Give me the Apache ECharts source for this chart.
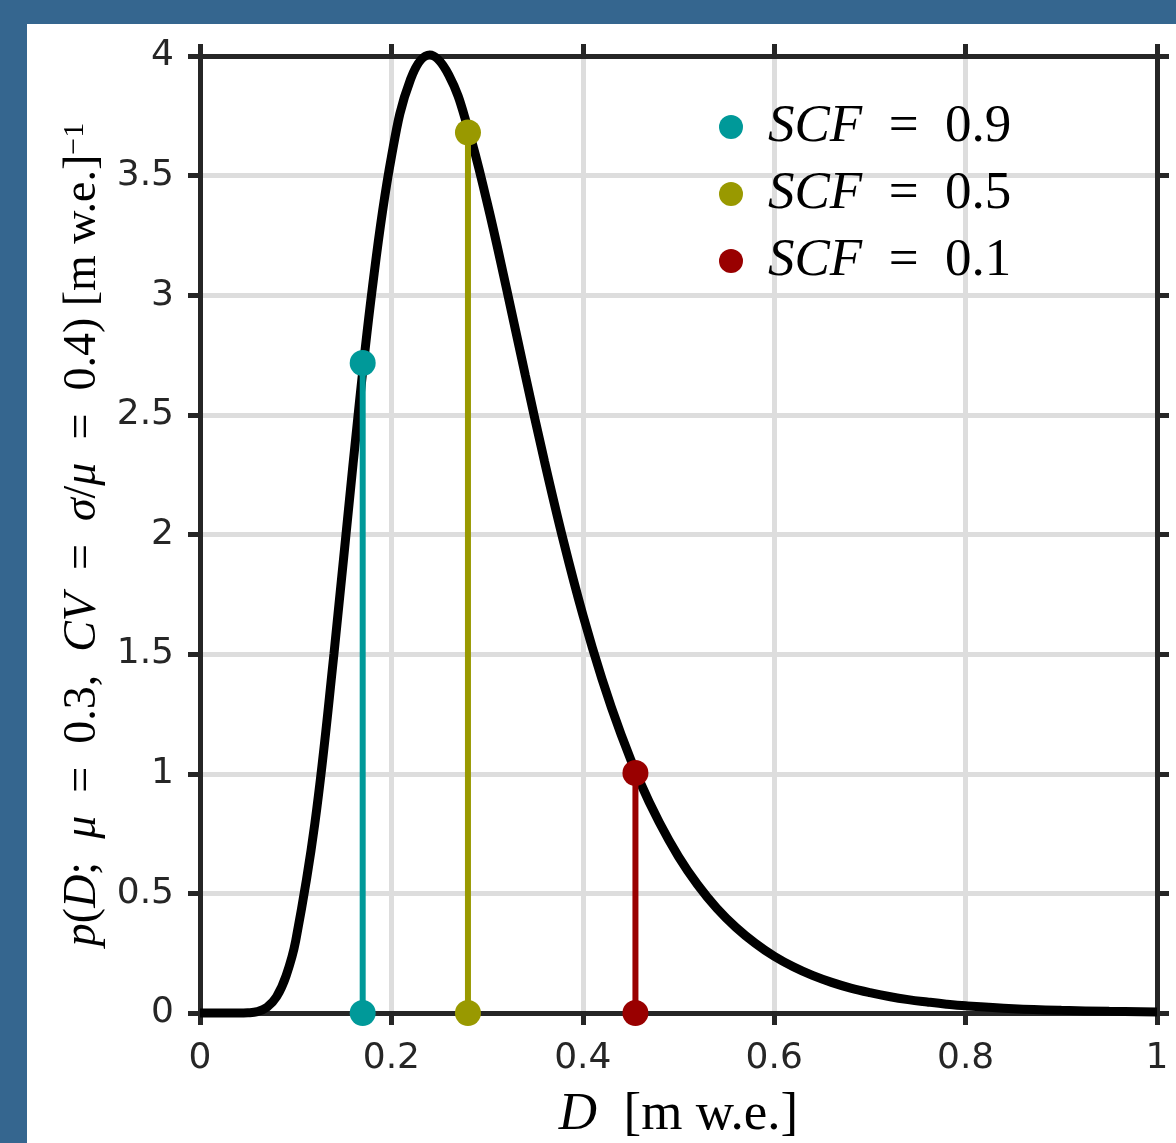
<!DOCTYPE html>
<html>
<head>
<meta charset="utf-8">
<script src="https://cdn.jsdelivr.net/npm/echarts@6/dist/echarts.min.js"></script>
<style>
  html, body { margin: 0; padding: 0; background: #fff; }
  #grafico { width: 1176px; height: 1143px; }
</style>
</head>
<body>
<div id="grafico"></div>
<script>
// lognormal density (mu = 0.3, CV = 0.4)
const dX = [0, 0.02, 0.04, 0.05, 0.06, 0.07, 0.08, 0.09, 0.10, 0.12, 0.14, 0.16, 0.18, 0.20, 0.22, 0.24, 0.26,
  0.28, 0.30, 0.32, 0.34, 0.36, 0.38, 0.40, 0.42, 0.44, 0.46, 0.48, 0.50, 0.52, 0.54, 0.56, 0.58, 0.60,
  0.62, 0.64, 0.66, 0.68, 0.70, 0.72, 0.74, 0.76, 0.78, 0.80, 0.85, 0.90, 0.95, 1.00]
const pD = [0, 0, 0, 0.001, 0.006, 0.024, 0.068, 0.156, 0.302, 0.792, 1.502, 2.298, 3.027, 3.578, 3.902, 4.004, 3.920,
  3.698, 3.388, 3.033, 2.664, 2.305, 1.969, 1.665, 1.397, 1.164, 0.964, 0.796, 0.654, 0.536, 0.438, 0.358, 0.292, 0.237,
  0.193, 0.157, 0.128, 0.104, 0.085, 0.069, 0.056, 0.046, 0.037, 0.030, 0.018, 0.011, 0.007, 0.004]

// snow cover fraction markers
const scfNombres = ['0.9', '0.5', '0.1']
const scfX = [0.170, 0.280, 0.455]
const scfY = [2.717, 3.680, 1.003]
const scfColores = ['#009999', '#999900', '#990000']

const xTicks = [0, 0.2, 0.4, 0.6, 0.8, 1]
const yTicks = [0, 0.5, 1, 1.5, 2, 2.5, 3, 3.5, 4]

const chart = echarts.init(document.getElementById('grafico'))

const ejeColor = '#262626'
const serif = 'Liberation Serif'
const esp = '\u2002'

function ejeBase(extra) {
  return Object.assign({
    type: 'value',
    axisLine: { show: true, onZero: false, lineStyle: { color: ejeColor, width: 5 } },
    axisTick: { show: true, inside: false, length: 12, lineStyle: { color: ejeColor, width: 5 } },
    splitLine: { show: false },
    axisLabel: { show: false }
  }, extra)
}

const stems = scfNombres.map((n, i) => ({
  name: 'SCF = ' + n,
  type: 'line',
  data: [[scfX[i], 0], [scfX[i], scfY[i]]],
  symbol: 'circle',
  symbolSize: 26,
  clip: false,
  lineStyle: { color: scfColores[i], width: 6 },
  itemStyle: { color: scfColores[i] },
  z: 4
}))

const option = {
  backgroundColor: '#ffffff',
  animation: false,
  graphic: [
    { type: 'rect', shape: { x: 0, y: 0, width: 1176, height: 24 }, style: { fill: '#35668f' }, z: 100 },
    { type: 'rect', shape: { x: 0, y: 0, width: 27, height: 1143 }, style: { fill: '#35668f' }, z: 100 }
  ],
  grid: { left: 200, right: 19, top: 56, bottom: 130, containLabel: false, outerBoundsMode: 'none' },
  legend: {
    data: scfNombres.map(n => ({ name: 'SCF = ' + n, icon: 'circle' })),
    orient: 'vertical',
    left: 714,
    top: 94,
    itemWidth: 64,
    itemHeight: 24,
    itemGap: 11,
    formatter: name => '{i|SCF}' + esp + '=' + esp + name.split(' = ')[1],
    textStyle: {
      fontFamily: serif,
      fontSize: 53,
      lineHeight: 56,
      color: '#000',
      rich: { i: { fontStyle: 'italic', fontFamily: serif, fontSize: 53, lineHeight: 56 } }
    }
  },
  xAxis: [
    ejeBase({
      position: 'bottom',
      min: 0, max: 1, interval: 0.2,
      splitLine: { show: true, lineStyle: { color: '#dddddd', width: 5 } },
      axisLabel: {
        show: true, margin: 28, color: ejeColor, fontFamily: 'DejaVu Sans', fontSize: 36,
        formatter: v => xTicks.includes(+v.toFixed(1)) ? String(+v.toFixed(1)) : ''
      },
      name: '{i|D}' + esp + '[m w.e.]',
      nameLocation: 'middle',
      nameGap: 76,
      nameTextStyle: {
        fontFamily: serif, fontSize: 53, color: '#000',
        rich: { i: { fontStyle: 'italic', fontFamily: serif, fontSize: 53 } }
      }
    }),
    ejeBase({ position: 'top', min: 0, max: 1, interval: 0.2 })
  ],
  yAxis: [
    ejeBase({
      position: 'left',
      min: 0, max: 4, interval: 0.5,
      splitLine: { show: true, lineStyle: { color: '#dddddd', width: 5 } },
      axisLabel: {
        show: true, margin: 26, color: ejeColor, fontFamily: 'DejaVu Sans', fontSize: 36,
        formatter: v => String(yTicks.find(t => Math.abs(t - v) < 1e-6) ?? v)
      },
      name: '{i|p}({i|D};' + esp + '{i|μ}' + esp + '=' + esp + '0.3,' + esp + '{i|CV}' + esp + '=' + esp +
        '{i|σ}/{i|μ}' + esp + '=' + esp + '0.4) [m w.e.]{sup|−1}',
      nameLocation: 'middle',
      nameRotate: 90,
      nameGap: 92,
      nameTextStyle: {
        fontFamily: serif, fontSize: 46, color: '#000',
        rich: {
          i: { fontStyle: 'italic', fontFamily: serif, fontSize: 46 },
          sup: { fontFamily: serif, fontSize: 30, verticalAlign: 'top' }
        }
      }
    }),
    ejeBase({ position: 'right', min: 0, max: 4, interval: 0.5 })
  ],
  series: [
    {
      name: 'pdf',
      type: 'line',
      data: dX.map((x, i) => [x, pD[i]]),
      smooth: 0.4,
      showSymbol: false,
      clip: false,
      lineStyle: { color: '#000', width: 9 },
      z: 3
    }
  ].concat(stems)
}

chart.setOption(option)
</script>
</body>
</html>
